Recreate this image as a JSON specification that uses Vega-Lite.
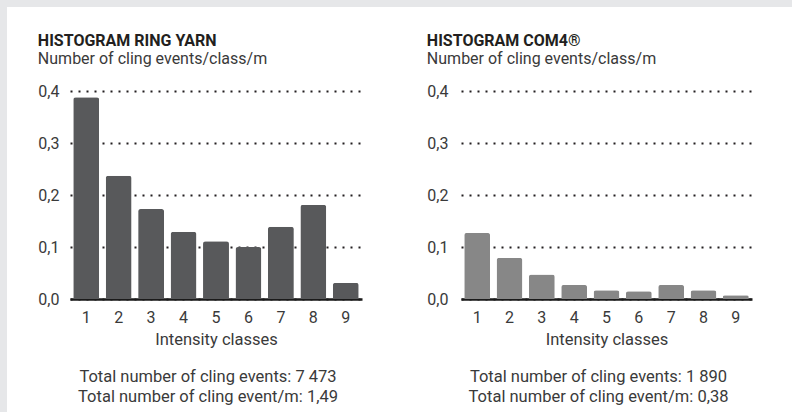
{
  "$schema": "https://vega.github.io/schema/vega-lite/v6.json",
  "padding": 0,
  "background": "white",
  "datasets": {
    "ring": [
      {"cls": "1", "v": 0.388}, {"cls": "2", "v": 0.237}, {"cls": "3", "v": 0.173},
      {"cls": "4", "v": 0.129}, {"cls": "5", "v": 0.111}, {"cls": "6", "v": 0.100},
      {"cls": "7", "v": 0.139}, {"cls": "8", "v": 0.181}, {"cls": "9", "v": 0.031}
    ],
    "com4": [
      {"cls": "1", "v": 0.127}, {"cls": "2", "v": 0.079}, {"cls": "3", "v": 0.047},
      {"cls": "4", "v": 0.027}, {"cls": "5", "v": 0.017}, {"cls": "6", "v": 0.015},
      {"cls": "7", "v": 0.027}, {"cls": "8", "v": 0.017}, {"cls": "9", "v": 0.007}
    ],
    "blank": [{"k": 1}]
  },
  "config": {
    "font": "Roboto",
    "view": {"stroke": null},
    "axis": {
      "labelFont": "Roboto", "labelFontSize": 16, "labelColor": "#3a3a3a",
      "titleFont": "Roboto", "titleFontSize": 16.5, "titleFontWeight": "normal", "titleColor": "#3a3a3a",
      "ticks": false
    },
    "title": {"font": "Roboto", "color": "#231f20"}
  },
  "spacing": 0,
  "hconcat": [
    {
      "width": 7, "height": 412,
      "data": {"name": "blank"},
      "mark": {"type": "rect", "color": "#e6e7e9"},
      "encoding": {}
    },
    {
      "spacing": 26,
      "vconcat": [
        {
          "width": 785, "height": 7,
          "data": {"name": "blank"},
          "mark": {"type": "rect", "color": "#e6e7e9"},
          "encoding": {}
        },
        {
          "spacing": 29,
          "hconcat": [
            {
              "width": 1, "height": 10,
              "data": {"name": "blank"},
              "mark": {"type": "rect", "opacity": 0},
              "encoding": {}
            },
            {
              "spacing": 64,
              "hconcat": [
                {
                  "title": {
                    "text": "HISTOGRAM RING YARN",
                    "subtitle": "Number of cling events/class/m",
                    "anchor": "start", "frame": "bounds",
                    "fontSize": 16, "fontWeight": "bold",
                    "subtitleFont": "Roboto", "subtitleFontSize": 16, "subtitleColor": "#3a3a3a",
                    "subtitlePadding": 2, "offset": 16
                  },
                  "vconcat": [
                    {
                      "width": 292, "height": 208,
                      "data": {"name": "ring"},
                      "title": {
                        "text": ["Total number of cling events: 7 473", "Total number of cling event/m: 1,49"],
                        "orient": "bottom", "anchor": "middle", "frame": "group", "dx": -8,
                        "fontSize": 16.5, "fontWeight": "normal", "color": "#3a3a3a", "lineHeight": 20, "offset": 21
                      },
                      "mark": {"type": "bar", "color": "#58595b", "cornerRadiusTopLeft": 2.5, "cornerRadiusTopRight": 2.5},
                      "encoding": {
                        "x": {"field": "cls", "type": "ordinal",
                          "scale": {"paddingInner": 0.2, "paddingOuter": 0.1},
                          "axis": {"labelAngle": 0, "labelPadding": 10, "title": "Intensity classes", "titlePadding": 6,
                            "domainColor": "#1a1a1a", "domainWidth": 2.5}},
                        "y": {"field": "v", "type": "quantitative",
                          "scale": {"domain": [0, 0.4]},
                          "axis": {"values": [0, 0.1, 0.2, 0.3, 0.4], "format": ".1f", "labelExpr": "replace(datum.label, '.', ',')",
                            "title": null, "domain": false, "labelPadding": 11,
                            "grid": true, "gridColor": "#231f20", "gridDash": [2, 6], "gridWidth": 2}}
                      }
                    }
                  ]
                },
                {
                  "title": {
                    "text": "HISTOGRAM COM4®",
                    "subtitle": "Number of cling events/class/m",
                    "anchor": "start", "frame": "bounds",
                    "fontSize": 16, "fontWeight": "bold",
                    "subtitleFont": "Roboto", "subtitleFontSize": 16, "subtitleColor": "#3a3a3a",
                    "subtitlePadding": 2, "offset": 16
                  },
                  "vconcat": [
                    {
                      "width": 291, "height": 208,
                      "data": {"name": "com4"},
                      "title": {
                        "text": ["Total number of cling events: 1 890", "Total number of cling event/m: 0,38"],
                        "orient": "bottom", "anchor": "middle", "frame": "group", "dx": -8,
                        "fontSize": 16.5, "fontWeight": "normal", "color": "#3a3a3a", "lineHeight": 20, "offset": 21
                      },
                      "mark": {"type": "bar", "color": "#878787", "cornerRadiusTopLeft": 2.5, "cornerRadiusTopRight": 2.5},
                      "encoding": {
                        "x": {"field": "cls", "type": "ordinal",
                          "scale": {"paddingInner": 0.2, "paddingOuter": 0.1},
                          "axis": {"labelAngle": 0, "labelPadding": 10, "title": "Intensity classes", "titlePadding": 6,
                            "domainColor": "#1a1a1a", "domainWidth": 2.5}},
                        "y": {"field": "v", "type": "quantitative",
                          "scale": {"domain": [0, 0.4]},
                          "axis": {"values": [0, 0.1, 0.2, 0.3, 0.4], "format": ".1f", "labelExpr": "replace(datum.label, '.', ',')",
                            "title": null, "domain": false, "labelPadding": 13,
                            "grid": true, "gridColor": "#231f20", "gridDash": [2, 6], "gridWidth": 2}}
                      }
                    }
                  ]
                }
              ]
            }
          ]
        }
      ]
    }
  ]
}
